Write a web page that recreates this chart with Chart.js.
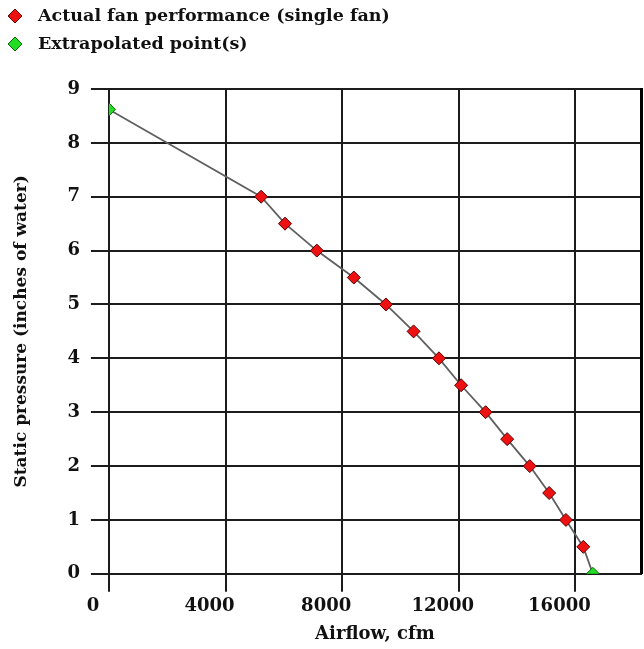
<!DOCTYPE html>
<html>
<head>
<meta charset="utf-8">
<title>Fan curve</title>
<script src="https://cdn.jsdelivr.net/npm/chart.js@4/dist/chart.umd.min.js"></script>
<style>
  html, body { margin: 0; padding: 0; background: #fff; }
  canvas { display: block; }
</style>
</head>
<body>
<canvas id="fanChart" width="644" height="649"></canvas>
<script>
// measured fan points (single fan)
const airflow = [5220, 6040, 7130, 8400, 9500, 10450, 11320, 12080, 12920, 13660, 14435, 15100, 15675, 16270];
const pressure = [7.0, 6.5, 6.0, 5.5, 5.0, 4.5, 4.0, 3.5, 3.0, 2.5, 2.0, 1.5, 1.0, 0.5];

// extrapolated ends of the curve
const extrapAirflow = [0, 16600];
const extrapPressure = [8.62, 0];

const xTickValues = [0, 4000, 8000, 12000, 16000];
const yTickValues = [0, 1, 2, 3, 4, 5, 6, 7, 8, 9];

const legendNames = ["Actual fan performance (single fan)", "Extrapolated point(s)"];
const xTitle = "Airflow, cfm";
const yTitle = "Static pressure (inches of water)";

const toPoints = (xs, ys) => xs.map((x, i) => ({ x: x, y: ys[i] }));

const actualPts = toPoints(airflow, pressure);
const extrapPts = toPoints(extrapAirflow, extrapPressure);
const curvePts = [extrapPts[0], ...actualPts, extrapPts[1]];

const FONT = '"DejaVu Serif", "Liberation Serif", serif';
Chart.defaults.font.family = FONT;
Chart.defaults.font.weight = 'bold';
Chart.defaults.font.size = 18;
Chart.defaults.color = '#111';

const gridCol = '#1c1c1c';

// legend stacked in two rows at top-left
const stackedLegend = {
  id: 'stackedLegend',
  afterDraw(chart) {
    const ctx = chart.ctx;
    ctx.save();
    ctx.font = 'bold 17.5px ' + FONT;
    ctx.textBaseline = 'middle';
    let row = 0;
    chart.data.datasets.forEach(ds => {
      if (!ds.inLegend) return;
      const y = 16 + row * 28;
      ctx.fillStyle = ds.backgroundColor;
      ctx.strokeStyle = ds.borderColor;
      ctx.lineWidth = 1;
      Chart.helpers.drawPoint(ctx, { pointStyle: 'rectRot', radius: 7, borderWidth: 1, rotation: 0 }, 15, y);
      ctx.fillStyle = '#111';
      ctx.fillText(ds.label, 38, y);
      row++;
    });
    ctx.restore();
  }
};

new Chart(document.getElementById('fanChart'), {
  type: 'scatter',
  data: {
    datasets: [
      {
        label: 'curve',
        data: curvePts,
        showLine: true,
        borderColor: '#606060',
        borderWidth: 1.8,
        pointRadius: 0,
        tension: 0,
        order: 3
      },
      {
        label: legendNames[0],
        inLegend: true,
        data: actualPts,
        pointStyle: 'rectRot',
        pointRadius: 6.5,
        backgroundColor: '#ee1111',
        borderColor: '#5a0000',
        borderWidth: 1,
        order: 1
      },
      {
        label: legendNames[1],
        inLegend: true,
        data: extrapPts,
        pointStyle: 'rectRot',
        pointRadius: 6.5,
        backgroundColor: '#22dd22',
        borderColor: '#0a6a0a',
        borderWidth: 1,
        order: 2
      }
    ]
  },
  options: {
    responsive: false,
    animation: false,
    layout: { autoPadding: false, padding: { top: 89, left: 0, right: 3, bottom: 0 } },
    plugins: {
      legend: { display: false },
      tooltip: { enabled: false }
    },
    scales: {
      x: {
        type: 'linear',
        min: 0,
        max: 18250,
        afterBuildTicks: axis => { axis.ticks = xTickValues.map(v => ({ value: v })); },
        grid: { color: gridCol, lineWidth: 2, tickLength: 18 },
        border: { color: gridCol, width: 2 },
        ticks: { padding: 4, labelOffset: -16, maxRotation: 0, callback: v => String(v) },
        title: { display: true, text: xTitle, padding: { top: 2, bottom: 4 } }
      },
      y: {
        min: 0,
        max: 9,
        afterBuildTicks: axis => { axis.ticks = yTickValues.map(v => ({ value: v })); },
        grid: { color: gridCol, lineWidth: 2, tickLength: 18 },
        border: { color: gridCol, width: 2 },
        ticks: { padding: 11, callback: v => String(v) },
        title: { display: true, text: yTitle, font: { size: 17 }, padding: { top: 11, bottom: 25 } }
      },
      y2: {
        position: 'right',
        min: 0,
        max: 9,
        afterFit: axis => { axis.width = 0; },
        grid: { display: false, drawTicks: false },
        ticks: { display: false },
        border: { color: '#000', width: 3 }
      }
    }
  },
  plugins: [stackedLegend]
});
</script>
</body>
</html>
